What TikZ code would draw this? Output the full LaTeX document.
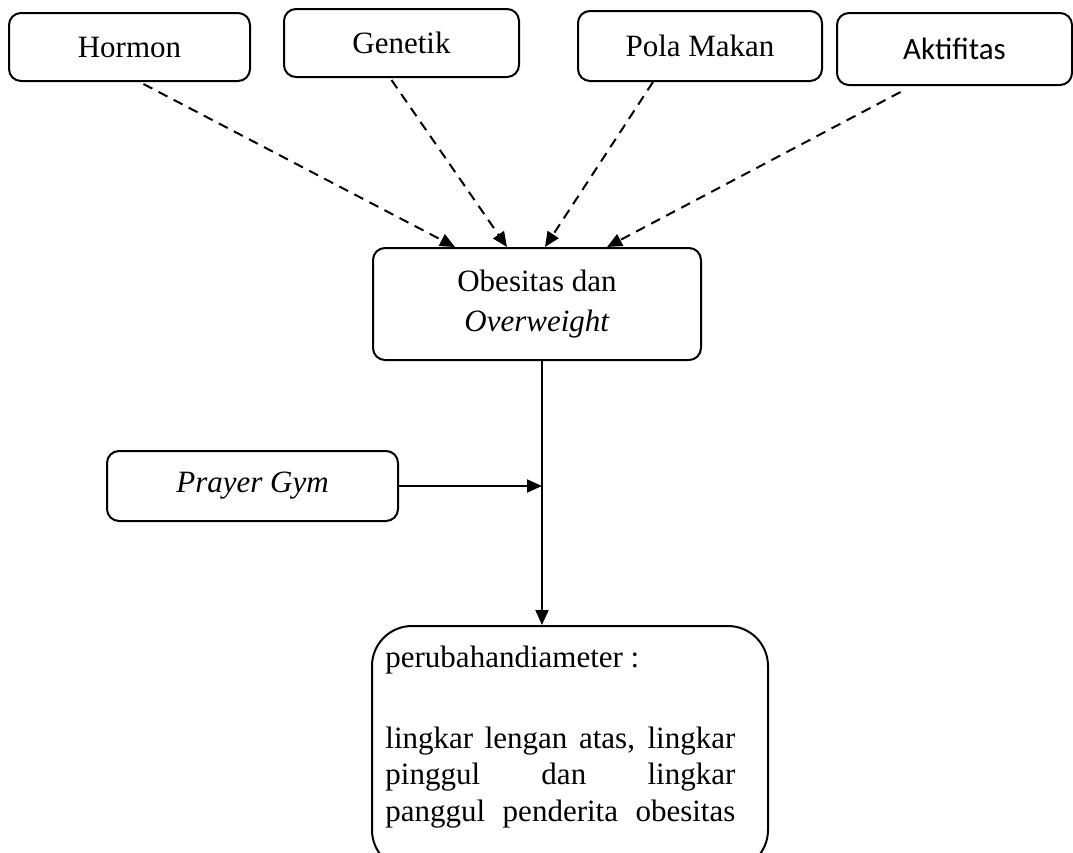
\documentclass[tikz,border=0pt]{standalone}
\usepackage{fontspec}
\setmainfont{Liberation Serif}
\newfontfamily\calfont{Carlito}
\usetikzlibrary{arrows.meta}
\begin{document}
\begin{tikzpicture}[x=0.5pt,y=-0.5pt,
  box/.style={draw,line width=1pt,rounded corners=6pt,inner sep=0pt,
    font=\fontsize{15.5}{18.25}\selectfont},
  dasharrow/.style={line width=1pt,dash pattern=on 5pt off 3.5pt,
    -{Triangle[length=7.5pt,width=6.5pt]}},
  solidarrow/.style={line width=1pt,-{Triangle[length=7.5pt,width=6.5pt]}}]
\useasboundingbox (0,0) rectangle (1073,853);
\node[box,minimum width=120.5pt,minimum height=34pt] (hormon) at (129.5,47) {Hormon};
\node[box,minimum width=117.5pt,minimum height=34pt] (genetik) at (401.5,43) {Genetik};
\node[box,minimum width=122pt,minimum height=35pt] (pola) at (700,46) {Pola Makan};
\node[box,minimum width=117.5pt,minimum height=36pt,font=\calfont\fontsize{15.5}{18.25}\selectfont] (akt) at (954.5,49) {Aktifitas};
\node[box,minimum width=164pt,minimum height=56pt,align=center,
  font=\fontsize{15.5}{20}\selectfont] (obes) at (537,304) {Obesitas dan\\\textit{Overweight}};
\node[box,minimum width=145.5pt,minimum height=35pt] (prayer) at (252.5,486) {\textit{Prayer Gym}};
\node[draw,line width=1pt,rounded corners=20pt,minimum width=198pt,minimum height=122pt,inner sep=0pt] (res) at (570,748) {};
\node[anchor=north west,inner sep=0pt,text width=175pt,align=justify,
  font=\fontsize{15.5}{18.25}\selectfont] (restext) at (385,646)
  {perubahandiameter :\par\vspace{22pt}%
   {\parfillskip=0pt lingkar lengan atas, lingkar\linebreak pinggul dan lingkar\linebreak panggul penderita obesitas\par}};
\coordinate (j) at (542,486);
\draw[dasharrow] ([xshift=7pt,yshift=-1pt]hormon.south) -- ([xshift=-41pt]obes.north);
\draw[dasharrow] ([xshift=-5pt,yshift=-1pt]genetik.south) -- ([xshift=-15pt]obes.north);
\draw[dasharrow] ([xshift=-23.5pt]pola.south) -- ([xshift=4pt]obes.north);
\draw[dasharrow] ([xshift=-27pt,yshift=-3pt]akt.south) -- ([xshift=35pt]obes.north);
\draw[solidarrow] ([xshift=2.5pt]obes.south) -- ([xshift=-14pt]res.north);
\draw[solidarrow] (prayer.east) -- (j);
\end{tikzpicture}
\end{document}
